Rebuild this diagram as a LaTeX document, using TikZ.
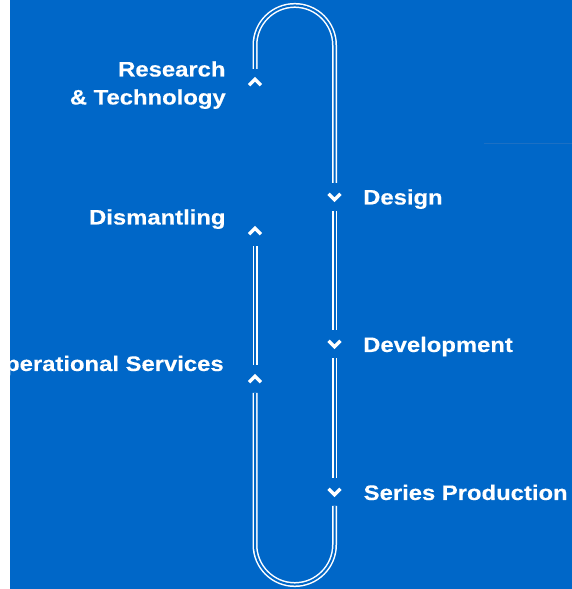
\documentclass[tikz,border=0pt]{standalone}
\usepackage{fontspec}
\newfontfamily\lbl{Liberation Sans}[FakeStretch=1.135, BoldFeatures={FakeBold=0.3}]
\definecolor{bg}{RGB}{0,103,200}
\definecolor{faint}{RGB}{28,112,196}
\tikzset{
  track/.style={draw=white, line width=1.5pt, double=bg, double distance=2pt},
  chev/.style={draw=white, line width=3.3pt, line join=miter, line cap=butt},
  lbl/.style={text=white, inner sep=0pt, font=\lbl\bfseries\fontsize{21}{28}\selectfont}
}
\begin{document}
\begin{tikzpicture}[x=1pt,y=1pt]
\useasboundingbox (0,0) rectangle (572,589);
\fill[bg] (10,0) rectangle (572,589);
\draw[faint, line width=1pt] (484,445) -- (572,445);
% chevron coordinates
\coordinate (c1) at (255,507);   % Research
\coordinate (c2) at (255,358);   % Dismantling
\coordinate (c3) at (255,210);   % Operational
\coordinate (d1) at (334.5,392); % Design
\coordinate (d2) at (334.5,245); % Development
\coordinate (d3) at (334.5,97);  % Series
% track
\draw[track] ([yshift=13]c1) -- (255,543.8) arc[start angle=180, end angle=0, radius=39.75] -- ([yshift=14]d1);
\draw[track] ([yshift=-14]d1) -- ([yshift=14]d2);
\draw[track] ([yshift=-14]d2) -- ([yshift=14]d3);
\draw[track] ([yshift=-14]d3) -- (334.5,44.2) arc[start angle=0, end angle=-180, radius=39.75] -- ([yshift=-14]c3);
\draw[track] ([yshift=14]c3) -- ([yshift=-15]c2);
% chevrons
\foreach \c in {c1,c2,c3}{
  \draw[chev] ([shift={(-6,-3.2)}]\c) -- ([shift={(0,2.8)}]\c) -- ([shift={(6,-3.2)}]\c);
}
\foreach \c in {d1,d2,d3}{
  \draw[chev] ([shift={(-6,3.2)}]\c) -- ([shift={(0,-2.8)}]\c) -- ([shift={(6,3.2)}]\c);
}
% labels
\node[lbl, anchor=base east] (research) at (225.7,512.5) {Research};
\node[lbl, anchor=base east] (tech) at (225.9,484.5) {\& Technology};
\node[lbl, anchor=base east] (dism) at (225.7,364.5) {Dismantling};
\node[lbl, anchor=base east] (ops) at (223.9,218) {Operational Services};
\node[lbl, anchor=base west] (design) at (363,384.5) {Design};
\node[lbl, anchor=base west] (dev) at (363,237) {Development};
\node[lbl, anchor=base west] (series) at (363.5,89) {Series Production};
\fill[white] (0,0) rectangle (10,589);
\end{tikzpicture}
\end{document}
